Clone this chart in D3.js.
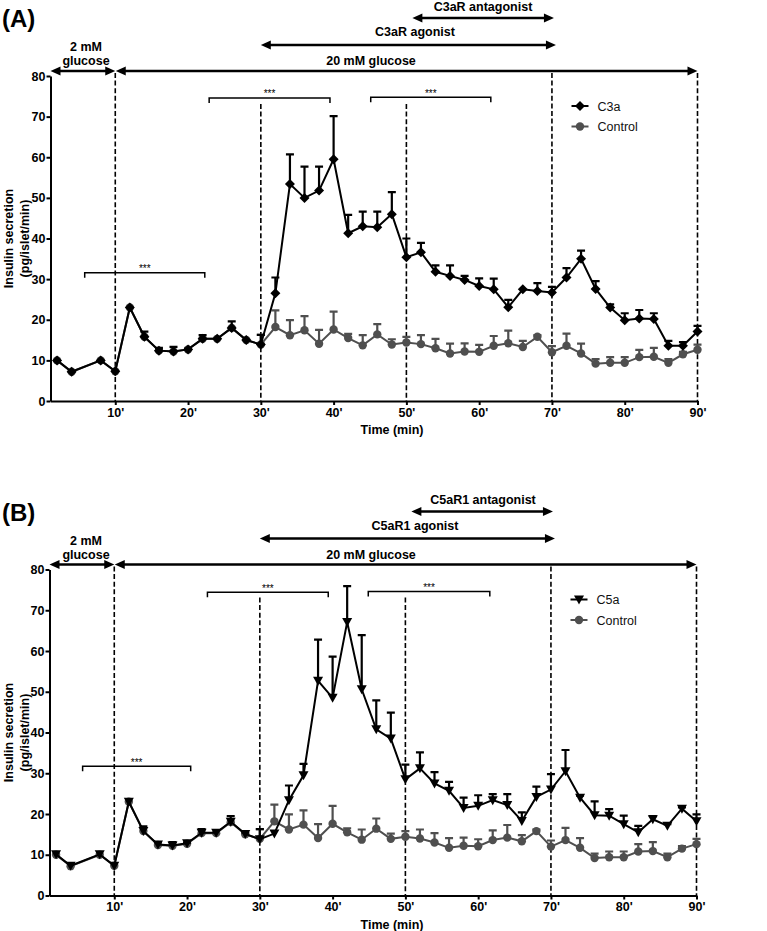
<!DOCTYPE html>
<html><head><meta charset="utf-8">
<script src="https://cdn.jsdelivr.net/npm/d3@7"></script>
<style>body{margin:0;background:#fff}svg{display:block;font-family:"Liberation Sans",Arial,sans-serif}</style>
</head><body><svg id="chart" width="767" height="931"></svg>
<script>
// ---------- data ----------
const times = [2,4,8,10,12,14,16,18,20,22,24,26,28,30,32,34,36,38,40,42,44,46,48,50,52,54,56,58,60,62,64,66,68,70,72,74,76,78,80,82,84,86,88,90];
const controlMean = [10.0,7.2,10.0,7.3,23.0,15.8,12.4,12.2,12.7,15.3,15.3,18.0,15.0,13.9,18.2,16.2,17.4,14.1,17.6,15.5,13.7,16.4,13.9,14.4,14.0,13.0,11.7,12.2,12.1,13.6,14.2,13.3,15.8,12.0,13.6,11.7,9.2,9.4,9.4,10.8,10.9,9.4,11.5,12.6];
const controlSem  = [0,0,0,0,0,0,0,0,0,0,0,0,0,2.4,4.1,3.7,3.5,3.4,4.4,1.0,2.5,2.5,1.3,1.4,2.2,2.3,2.4,2.0,1.7,2.4,3.1,1.5,0.4,1.5,3.0,2.4,1.1,1.4,1.4,1.8,2.2,0.9,0.6,1.3];
const c3aMean = [10.0,7.2,10.0,7.3,23.0,15.8,12.4,12.2,12.7,15.3,15.3,18.0,15.0,13.9,26.5,53.4,50.0,51.8,59.5,41.3,43.0,42.8,46.0,35.4,36.6,31.8,30.8,29.8,28.3,27.5,23.1,27.5,27.1,26.7,30.4,35.0,27.6,23.0,19.9,20.3,20.2,13.6,13.6,17.1];
const c3aSem  = [0,0,0,0,0,1.3,0.7,1.1,0.2,0.9,0,1.6,0,2.4,3.9,7.3,7.7,5.9,10.6,4.5,3.6,3.8,5.4,4.6,2.3,1.6,2.6,1.0,1.9,2.6,1.8,0,1.9,1.4,2.3,2.0,1.9,0.8,1.7,2.1,1.4,1.2,0.9,1.4];
const c5aMean = [10.1,7.3,10.1,7.3,23.0,15.8,12.5,12.3,12.8,15.4,15.4,18.1,15.1,13.8,15.2,23.4,29.5,52.7,48.5,67.1,50.6,40.8,38.5,28.5,31.2,27.5,25.7,21.5,22.0,23.4,22.2,18.3,24.2,26.0,30.5,24.0,19.7,19.6,17.5,15.5,18.7,17.1,21.3,18.2];
const c5aSem  = [0,0,0,0,0,1.2,0.6,0.8,0.2,0.9,0,1.4,0.3,2.5,0,3.6,2.8,10.1,10.1,8.8,13.3,7.1,6.4,3.6,3.9,2.8,2.2,2.5,2.6,1.5,2.7,2.1,2.5,3.8,5.2,0.5,3.4,1.6,2.1,1.6,0.8,0.4,0.3,1.7];
const xTicks = [10,20,30,40,50,60,70,80,90];
const yTicks = [0,10,20,30,40,50,60,70,80];
const dashTimes = [10,30,50,70,90];
const panelLabels = ["(A)","(B)"];
const treatNames = ["C3a","C5a"];
const controlName = "Control";
const agonistLabels = ["C3aR agonist","C5aR1 agonist"];
const antagonistLabels = ["C3aR antagonist","C5aR1 antagonist"];
const sigStartA = [22.9,45.1,5.8],  sigEndA = [39.5,61.6,22.3], sigLevelA = [74.6,74.8,31.6];
const sigStartB = [22.8,44.9,5.65], sigEndB = [39.4,61.6,20.5], sigLevelB = [74.4,74.6,31.7];

// ---------- drawing ----------
const svg = d3.select("#chart");
const BLACK = "#000", GRAY = "#4f4f4f";

const diamond = "M0,-5L5,0L0,5L-5,0Z";
const triDown = "M-5,-4L5,-4L0,5Z";

function arrowHead(g, xTip, y, dir) {
  const L = 10, W = 4.5;
  g.append("path")
    .attr("d", `M${xTip},${y}L${xTip - dir*L},${y - W}L${xTip - dir*L},${y + W}Z`)
    .attr("fill", BLACK);
}
function arrow(g, x1, x2, y) {
  g.append("line").attr("x1", x1 + 8).attr("x2", x2 - 8).attr("y1", y).attr("y2", y)
    .attr("stroke", BLACK).attr("stroke-width", 2.6);
  arrowHead(g, x1, y, -1);
  arrowHead(g, x2, y, 1);
}

function drawPanel(i, cfg) {
  const g = svg.append("g");
  const x = d3.scaleLinear().domain([1.1, 90]).range([50.5 + cfg.dx, 697.5 + cfg.dx]);
  const y = d3.scaleLinear().domain([0, 80]).range([cfg.bottom, cfg.top]);
  const top = cfg.top;

  g.append("text").attr("x", 2).attr("y", top - 49).attr("font-size", 24).attr("font-weight", "bold")
    .attr("fill", BLACK).text(panelLabels[i]);

  const yAxis = d3.axisLeft(y).tickValues(yTicks).tickSize(4).tickPadding(1).tickSizeOuter(0);
  const yg = g.append("g").attr("transform", `translate(${x(1.1)},0)`).call(yAxis);
  const xAxis = d3.axisBottom(x).tickValues(xTicks).tickSize(4).tickPadding(3).tickSizeOuter(0)
    .tickFormat(d => d + "'");
  const xg = g.append("g").attr("transform", `translate(0,${cfg.bottom})`).call(xAxis);
  [yg, xg].forEach(a => {
    a.selectAll("path,line").attr("stroke", BLACK).attr("stroke-width", 2);
    a.selectAll("text").attr("font-size", 12.5).attr("font-weight", "bold")
      .attr("font-family", '"Liberation Sans",Arial,sans-serif').attr("fill", BLACK);
  });

  const yt = g.append("text").attr("transform", `translate(13,${(cfg.top + cfg.bottom)/2}) rotate(-90)`)
    .attr("text-anchor", "middle").attr("font-size", 12.5).attr("font-weight", "bold").attr("fill", BLACK);
  yt.append("tspan").attr("x", 0).attr("dy", 0).text("Insulin secretion");
  yt.append("tspan").attr("x", 0).attr("dy", 16).text("(pg/islet/min)");
  g.append("text").attr("x", 392).attr("y", cfg.bottom + 33).attr("text-anchor", "middle")
    .attr("font-size", 12.5).attr("font-weight", "bold").attr("fill", BLACK).text("Time (min)");

  const dashTop = [-3, 28, 28, -3, -3];
  dashTimes.forEach((t, k) => {
    g.append("line").attr("x1", x(t)).attr("x2", x(t)).attr("y1", top + dashTop[k]).attr("y2", cfg.bottom)
      .attr("stroke", BLACK).attr("stroke-width", 1.6).attr("stroke-dasharray", "5,2.6");
  });

  const ann = g.append("g");
  arrow(ann, x(1.1), x(10), top - 5);
  arrow(ann, x(10) + 0.5, x(90), top - 5);
  arrow(ann, x(30), x(70) + 4, top - 31);
  arrow(ann, x(50) + 6, x(70) + 2, top - 58);
  const t = (tx, ty, s) => ann.append("text").attr("x", tx).attr("y", ty).attr("text-anchor", "middle")
    .attr("font-size", 12.5).attr("font-weight", "bold").attr("fill", BLACK).text(s);
  t(86, top - 25, "2 mM");
  t(86, top - 11, "glucose");
  t(371, top - 11, "20 mM glucose");
  t(415, top - 40, agonistLabels[i]);
  t(483, top - 65.5, antagonistLabels[i]);

  cfg.sigStart.forEach((s, k) => {
    const yy = y(cfg.sigLevel[k]), x1 = x(s), x2 = x(cfg.sigEnd[k]);
    g.append("path").attr("d", `M${x1},${yy + 5}V${yy}H${x2}V${yy + 5}`)
      .attr("fill", "none").attr("stroke", BLACK).attr("stroke-width", 1.5);
    g.append("text").attr("x", (x1 + x2) / 2).attr("y", yy - 0.5).attr("text-anchor", "middle")
      .attr("font-size", 10).attr("fill", BLACK).text("***");
  });

  function series(mean, sem, color, markerFn) {
    const pts = times.map((tt, k) => ({t: tt, m: mean[k], s: sem[k]}));
    const sg = g.append("g");
    sg.append("path").datum(pts)
      .attr("d", d3.line().x(d => x(d.t)).y(d => y(d.m)))
      .attr("fill", "none").attr("stroke", color).attr("stroke-width", 2);
    pts.filter(d => d.s > 0).forEach(d => {
      const cx = x(d.t), y0 = y(d.m), y1 = y(d.m + d.s);
      sg.append("path").attr("d", `M${cx},${y0}V${y1}M${cx - 4},${y1}H${cx + 4}`)
        .attr("fill", "none").attr("stroke", color).attr("stroke-width", 2.2);
    });
    pts.forEach(d => markerFn(sg, x(d.t), y(d.m), color));
  }
  const circ = (sg, cx, cy, c) => sg.append("circle").attr("cx", cx).attr("cy", cy).attr("r", 4.2).attr("fill", c);
  const pathM = p => (sg, cx, cy, c) => sg.append("path").attr("d", p).attr("transform", `translate(${cx},${cy})`).attr("fill", c);
  const treatMarker = i === 0 ? pathM(diamond) : pathM(triDown);

  series(controlMean, controlSem, GRAY, circ);
  series(cfg.mean, cfg.sem, BLACK, treatMarker);

  const lg = g.append("g");
  const lx = x(1.1) + 521;
  [[treatNames[i], BLACK, treatMarker, top + 30], [controlName, GRAY, circ, top + 50.5]].forEach(([name, c, mk, ly]) => {
    lg.append("line").attr("x1", lx).attr("x2", lx + 17).attr("y1", ly).attr("y2", ly).attr("stroke", c).attr("stroke-width", 2);
    mk(lg, lx + 8.5, ly, c);
    lg.append("text").attr("x", lx + 26).attr("y", ly + 4.5).attr("font-size", 12.5).attr("fill", "#111").text(name);
  });
}

drawPanel(0, {top: 76, bottom: 401, dx: 0, mean: c3aMean, sem: c3aSem,
  sigStart: sigStartA, sigEnd: sigEndA, sigLevel: sigLevelA});
drawPanel(1, {top: 569.5, bottom: 895.5, dx: -1, mean: c5aMean, sem: c5aSem,
  sigStart: sigStartB, sigEnd: sigEndB, sigLevel: sigLevelB});
</script></body></html>
